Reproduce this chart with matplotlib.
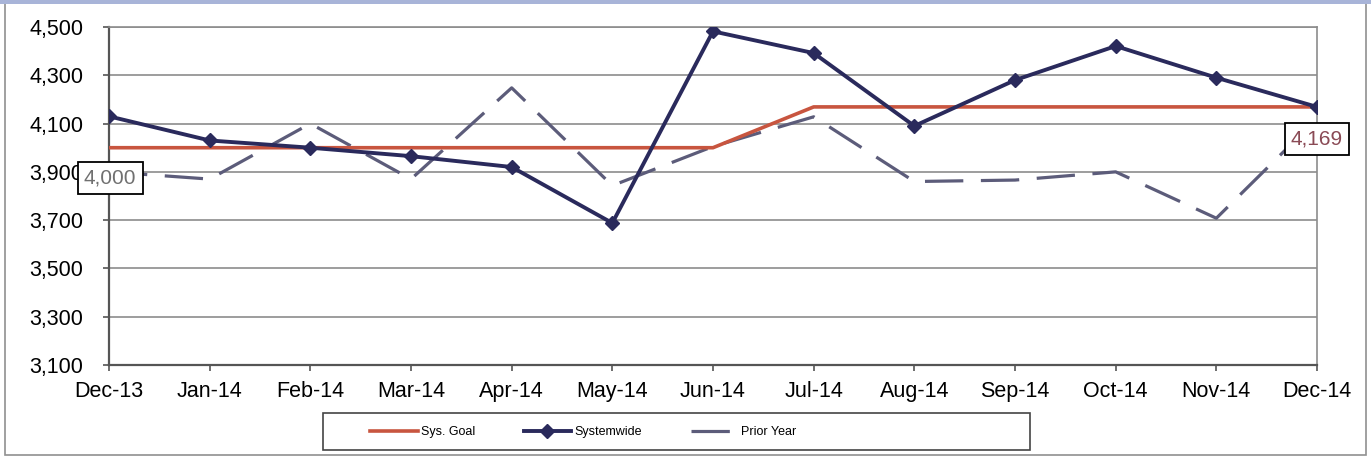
import matplotlib.pyplot as plt
from matplotlib.patches import Rectangle

plt.rcParams['font.family'] = ['Liberation Sans', 'DejaVu Sans']

months = ['Dec-13', 'Jan-14', 'Feb-14', 'Mar-14', 'Apr-14', 'May-14', 'Jun-14',
          'Jul-14', 'Aug-14', 'Sep-14', 'Oct-14', 'Nov-14', 'Dec-14']
sys_goal = [4000, 4000, 4000, 4000, 4000, 4000, 4000,
            4169, 4169, 4169, 4169, 4169, 4169]
systemwide = [4130, 4030, 4000, 3965, 3920, 3688, 4482,
              4392, 4090, 4280, 4421, 4290, 4169]
prior_year = [3900, 3870, 4100, 3870, 4248, 3843, 4005,
              4128, 3860, 3866, 3900, 3708, 4120]
yticks = [3100, 3300, 3500, 3700, 3900, 4100, 4300, 4500]

fig = plt.figure(figsize=(13.71, 4.57), dpi=100)
ax = fig.add_axes([109 / 1371, 1 - 365 / 457, 1208 / 1371, 338 / 457])

x = list(range(len(months)))

# 线条
ax.plot(x, prior_year, color='#5C5C7A', lw=2.3, dashes=(12, 5.5),
        label='Prior Year', zorder=3)
ax.plot(x, sys_goal, color='#C8553F', lw=2.6, label='Sys. Goal', zorder=4)
ax.plot(x, systemwide, color='#2A2A5C', lw=2.8, marker='D', markersize=7.5,
        label='Systemwide', zorder=5)

# 数据标签
lbl = dict(fontsize=15, ha='center', va='center', zorder=6,
           annotation_clip=False)
ax.annotate('{:,}'.format(sys_goal[0]), xy=(0, sys_goal[0]),
            xytext=(0.01, 3875), color='#707070',
            bbox=dict(boxstyle='square,pad=0.3', fc='white', ec='black', lw=1.3),
            **lbl)
ax.annotate('{:,}'.format(sys_goal[-1]), xy=(12, sys_goal[-1]),
            xytext=(12.0, 4036), color='#8A4A55',
            bbox=dict(boxstyle='square,pad=0.3', fc='white', ec='black', lw=1.3),
            **lbl)

# 坐标轴
ax.set_xlim(0, 12)
ax.set_ylim(3100, 4500)
ax.set_xticks(x)
ax.set_xticklabels(months)
ax.set_yticks(yticks)
ax.set_yticklabels(['{:,}'.format(v) for v in yticks])
ax.tick_params(axis='both', labelsize=15.5, length=4.5, width=1.2, color='#555555')
ax.tick_params(axis='y', pad=14)
ax.tick_params(axis='x', pad=7)
ax.yaxis.grid(True, color='#8C8C8C', lw=1.2)
ax.set_axisbelow(True)
for s in ['left', 'bottom']:
    ax.spines[s].set_color('#555555')
    ax.spines[s].set_linewidth(1.6)
for s in ['top', 'right']:
    ax.spines[s].set_color('#8C8C8C')
    ax.spines[s].set_linewidth(1.2)

# 图例
handles, labels = ax.get_legend_handles_labels()
order = [1, 2, 0]
fig.legend([handles[i] for i in order], [labels[i] for i in order],
           loc='center left', bbox_to_anchor=(365 / 1371, 1 - 432 / 457),
           ncol=3, frameon=False, fontsize=9, handlelength=3.8,
           handletextpad=0.25, columnspacing=3.9, borderaxespad=0)
fig.add_artist(Rectangle((323 / 1371, 1 - 450 / 457), 707 / 1371, 37 / 457,
                         transform=fig.transFigure, fill=False,
                         ec='#444444', lw=1.2))

# 外框
fig.add_artist(Rectangle((5 / 1371, 2 / 457), 1361 / 1371, 452 / 457,
                         transform=fig.transFigure, fill=False,
                         ec='#909090', lw=1.2))
fig.add_artist(Rectangle((0, 1 - 4 / 457), 1, 4 / 457,
                         transform=fig.transFigure, fc='#A8B4D8', ec='none'))

fig.savefig('out.png', dpi=100)
